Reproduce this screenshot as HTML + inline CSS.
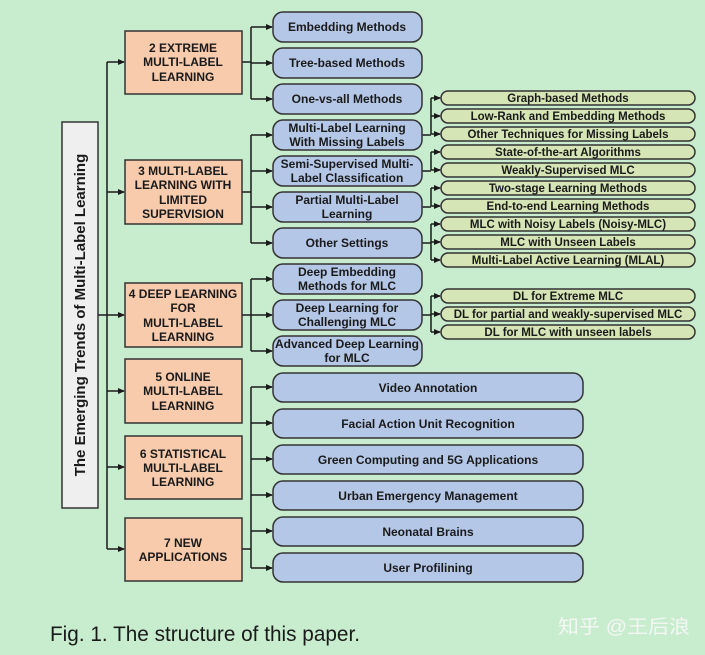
<!DOCTYPE html>
<html><head><meta charset="utf-8"><style>
html,body{margin:0;padding:0;background:#c8ecce;}
svg{display:block;}
text{font-family:"Liberation Sans",Arial,sans-serif;font-weight:bold;fill:#1a1a1a;text-anchor:middle;}
</style></head><body>
<svg width="705" height="655" viewBox="0 0 705 655" xmlns="http://www.w3.org/2000/svg">
<rect width="705" height="655" fill="#c8ecce"/>
<defs>
<marker id="a" markerWidth="7" markerHeight="6" refX="6" refY="3" orient="auto" markerUnits="userSpaceOnUse"><polygon points="0,0 7,3 0,6" fill="#1a1a1a"/></marker>
</defs>
<g stroke="#1a1a1a" stroke-width="1.5" fill="none">
<line x1="98" y1="315" x2="107" y2="315"/>
<line x1="107" y1="62" x2="107" y2="549"/>
<line x1="107" y1="62" x2="124" y2="62" marker-end="url(#a)"/>
<line x1="107" y1="192" x2="124" y2="192" marker-end="url(#a)"/>
<line x1="107" y1="315" x2="124" y2="315" marker-end="url(#a)"/>
<line x1="107" y1="391" x2="124" y2="391" marker-end="url(#a)"/>
<line x1="107" y1="467" x2="124" y2="467" marker-end="url(#a)"/>
<line x1="107" y1="549" x2="124" y2="549" marker-end="url(#a)"/>
<line x1="242" y1="62" x2="251" y2="62"/>
<line x1="251" y1="27" x2="251" y2="99"/>
<line x1="251" y1="27" x2="272" y2="27" marker-end="url(#a)"/>
<line x1="251" y1="63" x2="272" y2="63" marker-end="url(#a)"/>
<line x1="251" y1="99" x2="272" y2="99" marker-end="url(#a)"/>
<line x1="242" y1="192" x2="251" y2="192"/>
<line x1="251" y1="135" x2="251" y2="243"/>
<line x1="251" y1="135" x2="272" y2="135" marker-end="url(#a)"/>
<line x1="251" y1="171" x2="272" y2="171" marker-end="url(#a)"/>
<line x1="251" y1="207" x2="272" y2="207" marker-end="url(#a)"/>
<line x1="251" y1="243" x2="272" y2="243" marker-end="url(#a)"/>
<line x1="242" y1="315" x2="251" y2="315"/>
<line x1="251" y1="279" x2="251" y2="351"/>
<line x1="251" y1="279" x2="272" y2="279" marker-end="url(#a)"/>
<line x1="251" y1="315" x2="272" y2="315" marker-end="url(#a)"/>
<line x1="251" y1="351" x2="272" y2="351" marker-end="url(#a)"/>
<line x1="242" y1="549" x2="251" y2="549"/>
<line x1="251" y1="387" x2="251" y2="568"/>
<line x1="251" y1="387" x2="272" y2="387" marker-end="url(#a)"/>
<line x1="251" y1="423" x2="272" y2="423" marker-end="url(#a)"/>
<line x1="251" y1="459" x2="272" y2="459" marker-end="url(#a)"/>
<line x1="251" y1="495" x2="272" y2="495" marker-end="url(#a)"/>
<line x1="251" y1="531" x2="272" y2="531" marker-end="url(#a)"/>
<line x1="251" y1="568" x2="272" y2="568" marker-end="url(#a)"/>
<line x1="422" y1="135" x2="431" y2="135"/><line x1="431" y1="98" x2="431" y2="134"/>
<line x1="431" y1="98" x2="440" y2="98" marker-end="url(#a)"/>
<line x1="431" y1="116" x2="440" y2="116" marker-end="url(#a)"/>
<line x1="431" y1="134" x2="440" y2="134" marker-end="url(#a)"/>
<line x1="422" y1="171" x2="431" y2="171"/><line x1="431" y1="152" x2="431" y2="170"/>
<line x1="431" y1="152" x2="440" y2="152" marker-end="url(#a)"/>
<line x1="431" y1="170" x2="440" y2="170" marker-end="url(#a)"/>
<line x1="422" y1="207" x2="431" y2="207"/><line x1="431" y1="188" x2="431" y2="206"/>
<line x1="431" y1="188" x2="440" y2="188" marker-end="url(#a)"/>
<line x1="431" y1="206" x2="440" y2="206" marker-end="url(#a)"/>
<line x1="422" y1="243" x2="431" y2="243"/><line x1="431" y1="224" x2="431" y2="260"/>
<line x1="431" y1="224" x2="440" y2="224" marker-end="url(#a)"/>
<line x1="431" y1="242" x2="440" y2="242" marker-end="url(#a)"/>
<line x1="431" y1="260" x2="440" y2="260" marker-end="url(#a)"/>
<line x1="422" y1="315" x2="431" y2="315"/><line x1="431" y1="296" x2="431" y2="332"/>
<line x1="431" y1="296" x2="440" y2="296" marker-end="url(#a)"/>
<line x1="431" y1="314" x2="440" y2="314" marker-end="url(#a)"/>
<line x1="431" y1="332" x2="440" y2="332" marker-end="url(#a)"/>
</g>

<rect x="62" y="122" width="36" height="386" fill="#efefef" stroke="#333" stroke-width="1.5"/>
<text transform="translate(85,315) rotate(-90)" font-size="15">The Emerging Trends of Multi-Label Learning</text>

<g fill="#f8cbad" stroke="#333" stroke-width="1.5">
<rect x="125" y="31" width="117" height="63"/>
<rect x="125" y="160" width="117" height="64"/>
<rect x="125" y="283" width="117" height="64"/>
<rect x="125" y="359" width="117" height="64"/>
<rect x="125" y="436" width="117" height="63"/>
<rect x="125" y="518" width="117" height="63"/>
</g>
<g font-size="12">
<text x="183" y="52">2 EXTREME</text><text x="183" y="66">MULTI-LABEL</text><text x="183" y="81">LEARNING</text>
<text x="183" y="175">3 MULTI-LABEL</text><text x="183" y="189">LEARNING WITH</text><text x="183" y="204">LIMITED</text><text x="183" y="218">SUPERVISION</text>
<text x="183" y="298">4 DEEP LEARNING</text><text x="183" y="312">FOR</text><text x="183" y="327">MULTI-LABEL</text><text x="183" y="341">LEARNING</text>
<text x="183" y="381">5 ONLINE</text><text x="183" y="395">MULTI-LABEL</text><text x="183" y="410">LEARNING</text>
<text x="183" y="458">6 STATISTICAL</text><text x="183" y="472">MULTI-LABEL</text><text x="183" y="486">LEARNING</text>
<text x="183" y="547">7 NEW</text><text x="183" y="561">APPLICATIONS</text>
</g>

<g fill="#b4c7e7" stroke="#333" stroke-width="1.5">
<rect x="273" y="12" width="149" height="30" rx="10"/>
<rect x="273" y="48" width="149" height="30" rx="10"/>
<rect x="273" y="84" width="149" height="30" rx="10"/>
<rect x="273" y="120" width="149" height="30" rx="10"/>
<rect x="273" y="156" width="149" height="30" rx="10"/>
<rect x="273" y="192" width="149" height="30" rx="10"/>
<rect x="273" y="228" width="149" height="30" rx="10"/>
<rect x="273" y="264" width="149" height="30" rx="10"/>
<rect x="273" y="300" width="149" height="30" rx="10"/>
<rect x="273" y="336" width="149" height="30" rx="10"/>
<rect x="273" y="373" width="310" height="29" rx="10"/>
<rect x="273" y="409" width="310" height="29" rx="10"/>
<rect x="273" y="445" width="310" height="29" rx="10"/>
<rect x="273" y="481" width="310" height="29" rx="10"/>
<rect x="273" y="517" width="310" height="29" rx="10"/>
<rect x="273" y="553" width="310" height="29" rx="10"/>
</g>
<g font-size="12">
<text x="347" y="31">Embedding Methods</text>
<text x="347" y="67">Tree-based Methods</text>
<text x="347" y="103">One-vs-all Methods</text>
<text x="347" y="132">Multi-Label Learning</text><text x="347" y="146">With Missing Labels</text>
<text x="347" y="168">Semi-Supervised Multi-</text><text x="347" y="182">Label Classification</text>
<text x="347" y="204">Partial Multi-Label</text><text x="347" y="218">Learning</text>
<text x="347" y="247">Other Settings</text>
<text x="347" y="276">Deep Embedding</text><text x="347" y="290">Methods for MLC</text>
<text x="347" y="312">Deep Learning for</text><text x="347" y="326">Challenging MLC</text>
<text x="347" y="348">Advanced Deep Learning</text><text x="347" y="362">for MLC</text>
<text x="428" y="392">Video Annotation</text>
<text x="428" y="428">Facial Action Unit Recognition</text>
<text x="428" y="464">Green Computing and 5G Applications</text>
<text x="428" y="500">Urban Emergency Management</text>
<text x="428" y="536">Neonatal Brains</text>
<text x="428" y="572">User Profilining</text>
</g>

<g fill="#d5e5b5" stroke="#333" stroke-width="1.5">
<rect x="441" y="91" width="254" height="14" rx="7"/>
<rect x="441" y="109" width="254" height="14" rx="7"/>
<rect x="441" y="127" width="254" height="14" rx="7"/>
<rect x="441" y="145" width="254" height="14" rx="7"/>
<rect x="441" y="163" width="254" height="14" rx="7"/>
<rect x="441" y="181" width="254" height="14" rx="7"/>
<rect x="441" y="199" width="254" height="14" rx="7"/>
<rect x="441" y="217" width="254" height="14" rx="7"/>
<rect x="441" y="235" width="254" height="14" rx="7"/>
<rect x="441" y="253" width="254" height="14" rx="7"/>
<rect x="441" y="289" width="254" height="14" rx="7"/>
<rect x="441" y="307" width="254" height="14" rx="7"/>
<rect x="441" y="325" width="254" height="14" rx="7"/>
</g>
<g font-size="11.5">
<text x="568" y="102">Graph-based Methods</text>
<text x="568" y="120">Low-Rank and Embedding Methods</text>
<text x="568" y="138">Other Techniques for Missing Labels</text>
<text x="568" y="156">State-of-the-art Algorithms</text>
<text x="568" y="174">Weakly-Supervised MLC</text>
<text x="568" y="192">Two-stage Learning Methods</text>
<text x="568" y="210">End-to-end Learning Methods</text>
<text x="568" y="228">MLC with Noisy Labels (Noisy-MLC)</text>
<text x="568" y="246">MLC with Unseen Labels</text>
<text x="568" y="264">Multi-Label Active Learning (MLAL)</text>
<text x="568" y="300">DL for Extreme MLC</text>
<text x="568" y="318">DL for partial and weakly-supervised MLC</text>
<text x="568" y="336">DL for MLC with unseen labels</text>
</g>

<text x="50" y="641" font-size="21" style="font-weight:normal;text-anchor:start" textLength="310" lengthAdjust="spacingAndGlyphs">Fig. 1. The structure of this paper.</text>
<text x="558" y="633" font-size="19" style="font-weight:normal;text-anchor:start;fill:#f4f7f4;font-family:'Liberation Sans','Noto Sans CJK SC',sans-serif" textLength="132" lengthAdjust="spacingAndGlyphs">知乎 @王后浪</text>
</svg>
</body></html>
